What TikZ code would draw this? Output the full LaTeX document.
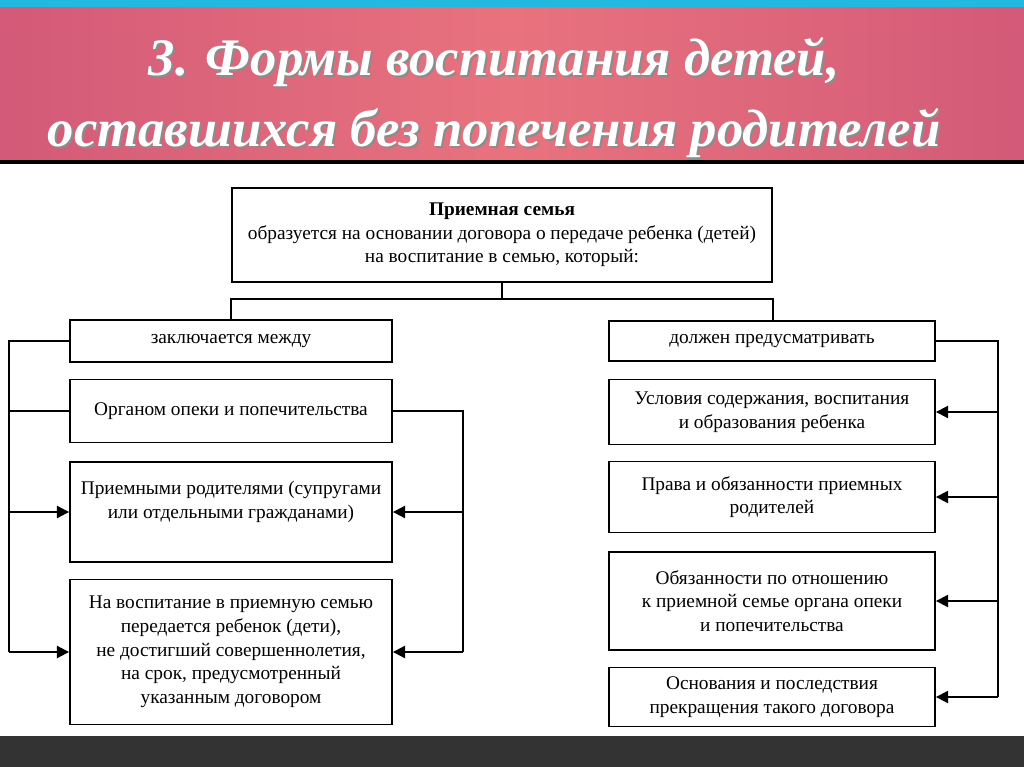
\documentclass[tikz,border=0pt]{standalone}
\usepackage{fontspec}
\setmainfont{Liberation Serif}
\usetikzlibrary{arrows.meta, positioning}

\definecolor{headpink}{HTML}{E8737E}
\definecolor{headdark}{HTML}{D35A78}
\definecolor{topcyan}{HTML}{22B8E0}

\begin{document}
\begin{tikzpicture}[x=0.02cm, y=-0.02cm,
        box/.style={rectangle, draw, line width=1.1pt, align=center, font=\fontsize{11}{13.5}\selectfont, inner sep=2pt},
        link/.style={draw, line width=1.1pt},
        arr/.style={draw, line width=1.1pt, -{Triangle[length=7pt, width=7pt]}}]

        % Background
        \useasboundingbox (0,0) rectangle (1024,767);
        \shade[left color=headdark, right color=headdark, middle color=headpink] (0,0) rectangle (1024,160);
        \fill[topcyan] (0,0) rectangle (1024,7);
        \fill[black] (0,160) rectangle (1024,164);
        \fill[black!80] (0,736) rectangle (1024,767);

        % Title
        \node (titleshadow) at (496,99) {\fontsize{30}{40}\selectfont\bfseries\itshape\color{black!45}\begin{tabular}{c}3. Формы воспитания детей,\\оставшихся без попечения родителей\end{tabular}};
        \node (title) at (494,97) {\fontsize{30}{40}\selectfont\bfseries\itshape\color{white}\begin{tabular}{c}3. Формы воспитания детей,\\оставшихся без попечения родителей\end{tabular}};

        % Nodes
        \node [box, minimum width=10.8cm, minimum height=1.88cm] (family) at (502,235) {\textbf{Приемная семья}\\образуется на основании договора о передаче ребенка (детей)\\на воспитание в семью, который:};

        \node [box, minimum width=6.44cm, minimum height=0.84cm] (between) at (231,341) {заключается между};
        \node [box, minimum width=6.44cm, minimum height=1.26cm] (organ) at (231,411) {Органом опеки и попечительства};
        \node [box, minimum width=6.44cm, minimum height=2.0cm] (parents) at (231,512) {Приемными родителями (супругами\\или отдельными гражданами)\\\mbox{}};
        \node [box, minimum width=6.44cm, minimum height=2.9cm] (child) at (231,652) {На воспитание в приемную семью\\передается ребенок (дети),\\не достигший совершеннолетия,\\на срок, предусмотренный\\указанным договором};

        \node [box, minimum width=6.52cm, minimum height=0.8cm] (provide) at (772,341) {должен предусматривать};
        \node [box, minimum width=6.52cm, minimum height=1.3cm] (terms) at (772,412) {Условия содержания, воспитания\\и образования ребенка};
        \node [box, minimum width=6.52cm, minimum height=1.42cm] (rights) at (772,497) {Права и обязанности приемных\\родителей};
        \node [box, minimum width=6.52cm, minimum height=1.96cm] (duties) at (772,601) {Обязанности по отношению\\к приемной семье органа опеки\\и попечительства};
        \node [box, minimum width=6.52cm, minimum height=1.18cm] (grounds) at (772,697) {Основания и последствия\\прекращения такого договора};

        % Edges
        \path [link] (family.south) -- ++(0,16) coordinate (fork);
        \path [link] (between.north -| family.west) |- (fork) -| (provide.north -| family.east);

        \path [link] (between.west) -- ++(-60,0) coordinate (leftbus) -- (leftbus |- child.east);
        \path [link] (organ.west) -- (organ.west -| leftbus);
        \path [arr] (leftbus |- parents.west) -- (parents.west);
        \path [arr] (leftbus |- child.west) -- (child.west);

        \path [link] (organ.east) -- ++(70,0) coordinate (innerbus) -- (innerbus |- child.east);
        \path [arr] (innerbus |- parents.east) -- (parents.east);
        \path [arr] (innerbus |- child.east) -- (child.east);

        \path [link] (provide.east) -- ++(62,0) coordinate (rightbus) -- (rightbus |- grounds.east);
        \path [arr] (rightbus |- terms.east) -- (terms.east);
        \path [arr] (rightbus |- rights.east) -- (rights.east);
        \path [arr] (rightbus |- duties.east) -- (duties.east);
        \path [arr] (rightbus |- grounds.east) -- (grounds.east);

    \end{tikzpicture}
\end{document}
